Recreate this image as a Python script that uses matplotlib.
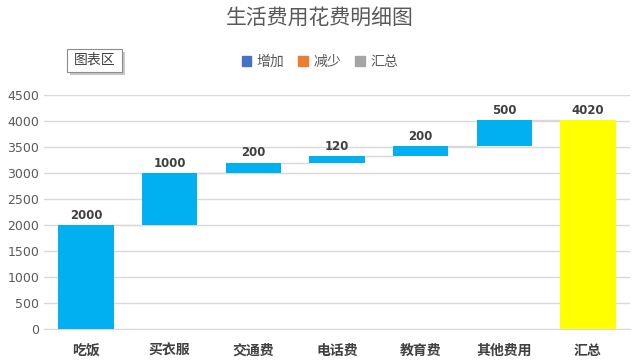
import numpy as np
import matplotlib
matplotlib.use("Agg")
import matplotlib.pyplot as plt
from matplotlib.patches import Patch, Rectangle

plt.rcParams['font.family'] = ['Noto Sans CJK SC', 'DejaVu Sans']

categories = ['吃饭', '买衣服', '交通费', '电话费', '教育费', '其他费用', '汇总']
amounts = [2000, 1000, 200, 120, 200, 500]
total = 4020
legend_labels = ['增加', '减少', '汇总']
yticks = [0, 500, 1000, 1500, 2000, 2500, 3000, 3500, 4000, 4500]

values = amounts + [total]
bottoms = list(np.concatenate([[0], np.cumsum(amounts)[:-1]])) + [0]
tops = [b + v for b, v in zip(bottoms, values)]
colors = ['#00B0F0'] * len(amounts) + ['#FFFF00']

fig = plt.figure(figsize=(6.4, 3.64), dpi=100)
ax = fig.add_axes([0.069, 0.097, 0.915, 0.642])
x = np.arange(len(categories))
ax.bar(x, values, bottom=bottoms, width=0.66, color=colors, zorder=3)

# connectors
for i in range(len(categories) - 1):
    ax.plot([x[i] + 0.33, x[i + 1] - 0.33], [tops[i], tops[i]],
            color='#D9D9D9', lw=1, zorder=2)

for xi, t, v in zip(x, tops, values):
    ax.text(xi, t + 60, str(v), ha='center', va='bottom', fontsize=8.5,
            fontweight='bold', color='#404040', family=['DejaVu Sans'])

ax.set_ylim(0, 4500)
ax.set_xlim(-0.5, len(categories) - 0.5)
ax.set_yticks(yticks)
ax.set_xticks(x)
ax.set_xticklabels(categories, fontsize=10, fontweight='bold', color='#404040')
ax.tick_params(axis='y', labelsize=9, colors='#595959', length=0)
ax.tick_params(axis='x', length=0, pad=11)
for lab in ax.get_yticklabels():
    lab.set_family(['DejaVu Sans'])
ax.grid(axis='y', color='#D9D9D9', lw=1, zorder=0)
for s in ['left', 'right', 'top']:
    ax.spines[s].set_visible(False)
ax.spines['bottom'].set_color('#D9D9D9')

fig.text(0.5, 0.948, '生活费用花费明细图', ha='center', va='center',
         fontsize=15, color='#595959')

handles = [Patch(color=c) for c in ['#4472C4', '#ED7D31', '#A5A5A5']]
fig.legend(handles, legend_labels, loc='center', bbox_to_anchor=(0.5, 0.83),
           ncol=3, frameon=False, fontsize=10, handlelength=0.7, handleheight=0.7,
           handletextpad=0.4, columnspacing=1.0, labelcolor='#595959')

# "图表区" tooltip box with a soft shadow
bw, bh = 55 / 640, 23 / 364
bx, by = 0.148 - bw / 2, 0.835 - bh / 2
fig.patches.append(Rectangle((bx + 3 / 640, by - 3 / 364), bw, bh,
                             transform=fig.transFigure, fc='#C8C8C8', ec='none'))
fig.patches.append(Rectangle((bx, by), bw, bh, transform=fig.transFigure,
                             fc='white', ec='#8C8C8C', lw=0.8))
fig.text(0.148, 0.835, '图表区', ha='center', va='center', fontsize=10,
         color='#404040')

fig.savefig('out.png', dpi=100)
